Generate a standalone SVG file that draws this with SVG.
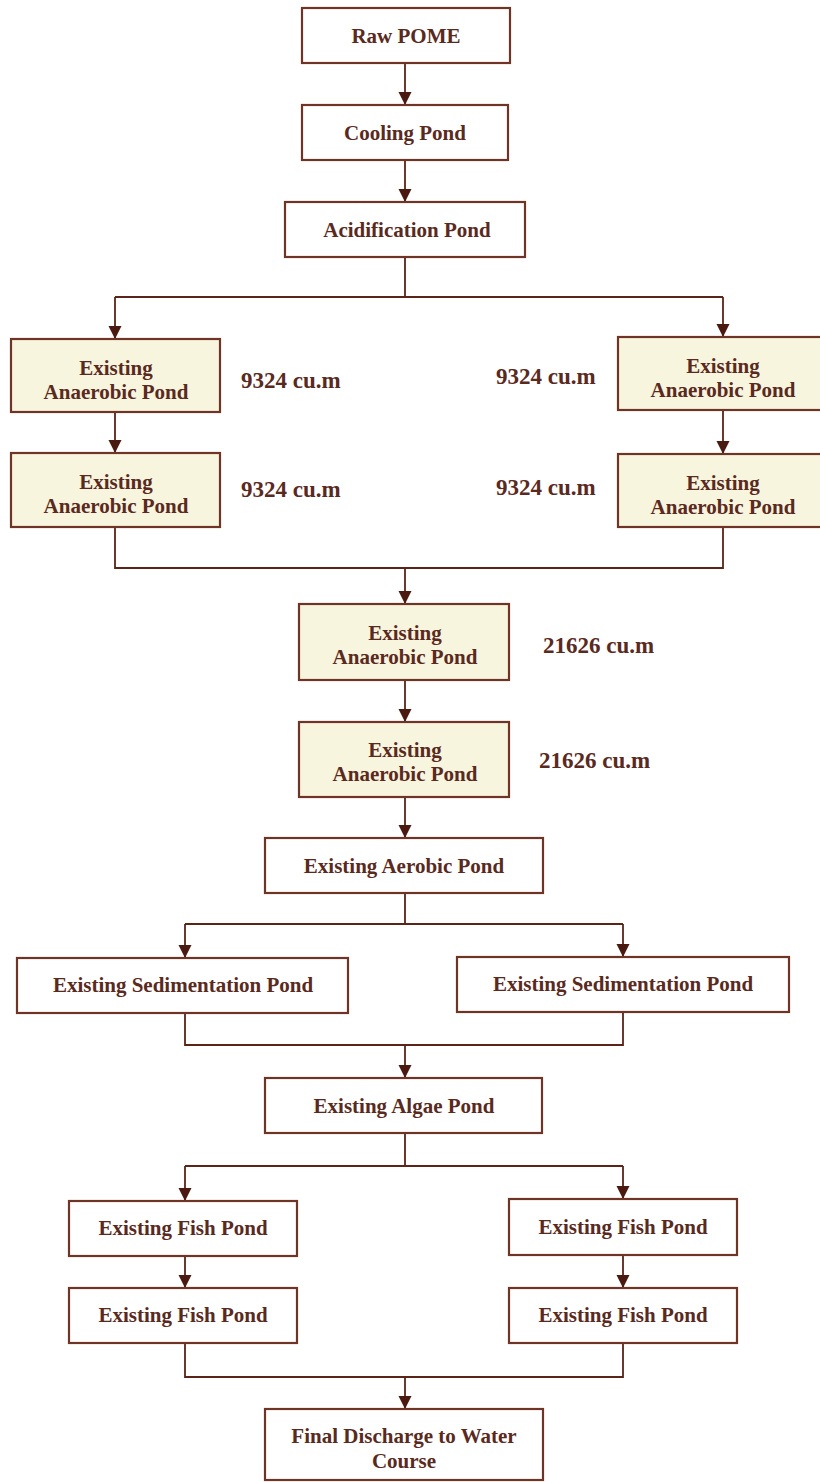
<svg xmlns="http://www.w3.org/2000/svg" width="820" height="1482" viewBox="0 0 820 1482">
<style>
.bx{fill:#ffffff;stroke:#6e3526;stroke-width:2.2}
.an{fill:#f8f5de;stroke:#6e3526;stroke-width:2.2}
.t{font-family:"Liberation Serif","Times New Roman",serif;font-weight:bold;font-size:21px;fill:#5a2a1e;text-anchor:middle}
.q{font-family:"Liberation Serif","Times New Roman",serif;font-weight:bold;font-size:23px;fill:#5a2a1e}
.c{fill:none;stroke:#5a2418;stroke-width:1.8}
.a{marker-end:url(#ah)}
</style>
<defs>
<marker id="ah" markerUnits="userSpaceOnUse" markerWidth="14" markerHeight="14" refX="13" refY="6.5" orient="auto">
<path d="M0,0 L13,6.5 L0,13 z" fill="#4a1a10"/>
</marker>
</defs>
<rect width="820" height="1482" fill="#ffffff"/>
<g id="connectors">
<path class="c a" d="M405,63 V105"/>
<path class="c a" d="M405,160 V202"/>
<path class="c" d="M405,257 V297 M115,297 H723"/>
<path class="c a" d="M115,297 V339"/>
<path class="c a" d="M723,297 V337"/>
<path class="c a" d="M115,412 V453"/>
<path class="c a" d="M723,410 V454"/>
<path class="c" d="M115,527 V568 H723 V527"/>
<path class="c a" d="M405,568 V604"/>
<path class="c a" d="M405,680 V722"/>
<path class="c a" d="M405,797 V838"/>
<path class="c" d="M405,893 V924 M185,924 H623"/>
<path class="c a" d="M185,924 V958"/>
<path class="c a" d="M623,924 V957"/>
<path class="c" d="M185,1013 V1045 H623 V1012"/>
<path class="c a" d="M405,1045 V1078"/>
<path class="c" d="M405,1133 V1166 M185,1166 H623"/>
<path class="c a" d="M185,1166 V1201"/>
<path class="c a" d="M623,1166 V1199"/>
<path class="c a" d="M185,1256 V1288"/>
<path class="c a" d="M623,1255 V1288"/>
<path class="c" d="M185,1343 V1377 H623 V1343"/>
<path class="c a" d="M405,1377 V1409"/>
</g>
<g id="raw"><rect class="bx" x="302" y="8" width="208" height="55"/><text class="t" x="406" y="43">Raw POME</text></g>
<g id="cooling"><rect class="bx" x="302" y="105" width="206" height="55"/><text class="t" x="405" y="140">Cooling Pond</text></g>
<g id="acid"><rect class="bx" x="285" y="202" width="240" height="55"/><text class="t" x="407" y="237">Acidification Pond</text></g>
<g id="anL1"><rect class="an" x="11" y="339" width="209" height="73"/><text class="t" x="116" y="375">Existing</text><text class="t" x="116" y="399">Anaerobic Pond</text></g>
<g id="anL2"><rect class="an" x="11" y="453" width="209" height="74"/><text class="t" x="116" y="489">Existing</text><text class="t" x="116" y="513">Anaerobic Pond</text></g>
<g id="anR1"><rect class="an" x="618" y="337" width="215" height="73"/><text class="t" x="723" y="373">Existing</text><text class="t" x="723" y="397">Anaerobic Pond</text></g>
<g id="anR2"><rect class="an" x="618" y="454" width="215" height="73"/><text class="t" x="723" y="490">Existing</text><text class="t" x="723" y="514">Anaerobic Pond</text></g>
<g id="qL1"><text class="q" x="241" y="388">9324 cu.m</text></g>
<g id="qL2"><text class="q" x="241" y="497">9324 cu.m</text></g>
<g id="qR1"><text class="q" x="496" y="384">9324 cu.m</text></g>
<g id="qR2"><text class="q" x="496" y="495">9324 cu.m</text></g>
<g id="anC1"><rect class="an" x="299" y="604" width="210" height="76"/><text class="t" x="405" y="640">Existing</text><text class="t" x="405" y="664">Anaerobic Pond</text></g>
<g id="anC2"><rect class="an" x="299" y="722" width="210" height="75"/><text class="t" x="405" y="757">Existing</text><text class="t" x="405" y="781">Anaerobic Pond</text></g>
<g id="qC1"><text class="q" x="543" y="653">21626 cu.m</text></g>
<g id="qC2"><text class="q" x="539" y="768">21626 cu.m</text></g>
<g id="aerobic"><rect class="bx" x="265" y="838" width="278" height="55"/><text class="t" x="404" y="873">Existing Aerobic Pond</text></g>
<g id="sedL"><rect class="bx" x="17" y="958" width="331" height="55"/><text class="t" x="183" y="992">Existing Sedimentation Pond</text></g>
<g id="sedR"><rect class="bx" x="457" y="957" width="332" height="55"/><text class="t" x="623" y="991">Existing Sedimentation Pond</text></g>
<g id="algae"><rect class="bx" x="265" y="1078" width="277" height="55"/><text class="t" x="404" y="1113">Existing Algae Pond</text></g>
<g id="fishL1"><rect class="bx" x="69" y="1201" width="228" height="55"/><text class="t" x="183" y="1235">Existing Fish Pond</text></g>
<g id="fishL2"><rect class="bx" x="69" y="1288" width="228" height="55"/><text class="t" x="183" y="1322">Existing Fish Pond</text></g>
<g id="fishR1"><rect class="bx" x="509" y="1199" width="228" height="56"/><text class="t" x="623" y="1234">Existing Fish Pond</text></g>
<g id="fishR2"><rect class="bx" x="509" y="1288" width="228" height="55"/><text class="t" x="623" y="1322">Existing Fish Pond</text></g>
<g id="final"><rect class="bx" x="265" y="1409" width="278" height="71"/><text class="t" x="404" y="1443">Final Discharge to Water</text><text class="t" x="404" y="1468">Course</text></g>
</svg>
